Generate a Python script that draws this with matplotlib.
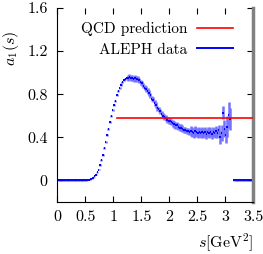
import numpy as np
import matplotlib
matplotlib.use('Agg')
import matplotlib.pyplot as plt
from matplotlib.lines import Line2D

plt.rcParams['font.family'] = 'serif'
plt.rcParams['font.serif'] = ['cmr10', 'DejaVu Serif']
plt.rcParams['mathtext.fontset'] = 'cm'
plt.rcParams['axes.formatter.use_mathtext'] = True

# ALEPH a1 spectral function, bin centres (0.025 GeV^2 bins)
s_low = np.arange(0.0125, 0.5, 0.025)
a1_low = [0.0] * len(s_low)
err_low = [0.002] * len(s_low)

s_mid = np.arange(0.5125, 3.1, 0.025)
a1_mid = [0.003, 0.005, 0.008, 0.012, 0.018, 0.026, 0.038, 0.055, 0.075, 0.10,
          0.14, 0.19, 0.24, 0.30, 0.36, 0.42, 0.48, 0.54, 0.60, 0.65,
          0.70, 0.74, 0.79, 0.83, 0.86, 0.89, 0.91, 0.93, 0.94, 0.95,
          0.95, 0.96, 0.95, 0.95, 0.94, 0.95, 0.94, 0.94, 0.93, 0.91,
          0.90, 0.88, 0.86, 0.85, 0.83, 0.81, 0.79, 0.76, 0.75, 0.72,
          0.70, 0.67, 0.66, 0.64, 0.62, 0.60, 0.59, 0.58, 0.56, 0.55,
          0.55, 0.54, 0.53, 0.52, 0.51, 0.51, 0.50, 0.49, 0.49, 0.48,
          0.47, 0.47, 0.46, 0.46, 0.45, 0.46, 0.45, 0.44, 0.46, 0.45,
          0.44, 0.45, 0.44, 0.45, 0.44, 0.45, 0.43, 0.45, 0.44, 0.45,
          0.43, 0.45, 0.44, 0.46, 0.44, 0.47, 0.40, 0.44, 0.63, 0.48,
          0.42, 0.50, 0.61, 0.57]
err_mid = ([0.004] * 10 + [0.01] * 20 + [0.025] * 30 + [0.03] * 15
           + [0.045] * 21 + [0.06, 0.07, 0.06, 0.08, 0.07, 0.10, 0.12, 0.10])

s_high = np.arange(3.1625, 3.5, 0.025)
a1_high = [0.0] * len(s_high)
err_high = [0.002] * len(s_high)

s = np.concatenate([s_low, s_mid[:len(a1_mid)], s_high])
a1 = np.array(a1_low + a1_mid + a1_high)
err = np.array(err_low + err_mid + err_high)

# QCD prediction
s_qcd = [1.07, 3.5]
a1_qcd = [0.58, 0.58]

fig = plt.figure(figsize=(2.63, 2.54), dpi=100)
ax = fig.add_axes([0.2186, 0.2047, 0.7434, 0.7638])

ax.plot(s_qcd, a1_qcd, color='red', lw=1.2, zorder=3)
ax.errorbar(s, a1, yerr=err, fmt='none', ecolor=(0.45, 0.45, 1.0), elinewidth=1.8, zorder=1)
ax.errorbar(s, a1, xerr=0.0125, fmt='none', ecolor='blue', elinewidth=1.4, zorder=2)

ax.set_xlim(0, 3.5)
ax.set_ylim(-0.2, 1.6)
ax.set_xticks([0, 0.5, 1, 1.5, 2, 2.5, 3, 3.5])
ax.set_xticklabels(['0', '0.5', '1', '1.5', '2', '2.5', '3', '3.5'])
ax.set_yticks([0, 0.4, 0.8, 1.2, 1.6])
ax.set_yticklabels(['0', '0.4', '0.8', '1.2', '1.6'])
ax.tick_params(direction='in', top=True, right=True, length=4, labelsize=11.5)
ax.tick_params(axis='x', pad=6)
ax.tick_params(axis='y', pad=7)
ax.spines['top'].set_visible(False)
ax.spines['right'].set_color('gray')
ax.spines['right'].set_linewidth(2.5)

handles = [Line2D([], [], color='red', lw=1.2),
           Line2D([], [], color='blue', lw=1.4)]
ax.legend(handles, ['QCD prediction', 'ALEPH data'], loc='upper right',
          bbox_to_anchor=(0.93, 0.96), frameon=False, markerfirst=False,
          fontsize=11, handlelength=2.4, handletextpad=0.6,
          borderaxespad=0.0, labelspacing=0.45)

fig.text(0.962, 0.045, r'$s[\mathrm{GeV}^2]$', ha='right', va='center', fontsize=11.5)
fig.text(0.04, 0.81, r'$a_1(s)$', rotation=90, ha='center', va='center', fontsize=11.5)

fig.savefig('out.png', dpi=100)
